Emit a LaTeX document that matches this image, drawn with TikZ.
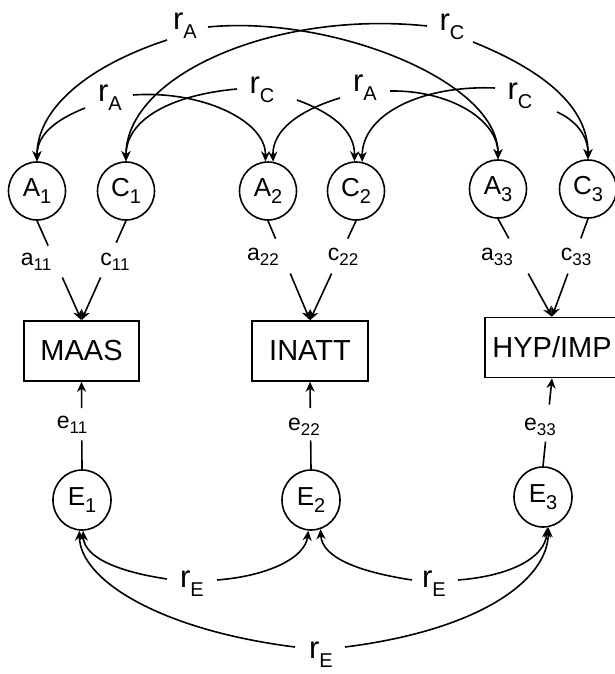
\documentclass[tikz,border=0pt]{standalone}
\usepackage{fontspec}
\setmainfont{Liberation Sans}
\usetikzlibrary{arrows.meta,shapes.geometric,calc}
\newcommand{\myL}[2]{{\fontsize{26}{26}\selectfont #1}\raisebox{-7pt}{\fontsize{20}{20}\selectfont #2}}
\newcommand{\myR}[1]{{\fontsize{31}{31}\selectfont r}\raisebox{-9pt}{\fontsize{20}{20}\selectfont #1}}
\newcommand{\myP}[2]{{\fontsize{23}{23}\selectfont #1}\raisebox{-5pt}{\fontsize{17}{17}\selectfont #2}}
\begin{document}
\begin{tikzpicture}[x=1pt,y=-1pt,
  every node/.style={inner sep=0pt},
  lat/.style={draw, ellipse, line width=1.6pt, minimum width=57pt, minimum height=58pt},
  elat/.style={draw, ellipse, line width=1.6pt, minimum width=58pt, minimum height=60pt},
  obs/.style={draw, rectangle, line width=1.6pt, minimum height=60pt, font=\fontsize{29}{29}\selectfont},
  conn/.style={line width=1.6pt},
  arr/.style={conn, -{Stealth[length=10pt,width=9pt]}}
]
\useasboundingbox (0,0) rectangle (614,674);

% latent A and C
\node[lat] (A1) at (37,191) {\myL{A}{1}};
\node[lat] (C1) at (126,191) {\myL{C}{1}};
\node[lat] (A2) at (268,191) {\myL{A}{2}};
\node[lat] (C2) at (356,191) {\myL{C}{2}};
\node[lat] (A3) at (498,189) {\myL{A}{3}};
\node[lat] (C3) at (588,189) {\myL{C}{3}};

% observed
\node[obs, minimum width=115pt] (MAAS) at (81.5,351) {MAAS};
\node[obs, minimum width=116pt] (INATT) at (310,351) {INATT};
\node[obs, minimum width=134pt] (HYP) at (552,347.5) {HYP/IMP};

% E latent
\node[elat] (E1) at (82,500) {\myL{E}{1}};
\node[elat] (E2) at (311,500) {\myL{E}{2}};
\node[elat] (E3) at (543,497) {\myL{E}{3}};

% path labels
\node (a11) at (36,262) {\myP{a}{11}};
\node (c11) at (115,262) {\myP{c}{11}};
\node (a22) at (263,257) {\myP{a}{22}};
\node (c22) at (343,257) {\myP{c}{22}};
\node (a33) at (497,257) {\myP{a}{33}};
\node (c33) at (576,257) {\myP{c}{33}};
\node (e11) at (72,425) {\myP{e}{11}};
\node (e22) at (304,427) {\myP{e}{22}};
\node (e33) at (540,427) {\myP{e}{33}};

% paths A/C -> observed
\draw[conn] (A1.south) -- ($(A1.south)!0.25!(MAAS.north)$);
\draw[arr] ($(A1.south)!0.57!(MAAS.north)$) -- (MAAS.north);
\draw[conn] (C1.south) -- ($(C1.south)!0.22!(MAAS.north)$);
\draw[arr] ($(C1.south)!0.57!(MAAS.north)$) -- (MAAS.north);
\draw[conn] (A2.south) -- ($(A2.south)!0.18!(INATT.north)$);
\draw[arr] ($(A2.south)!0.53!(INATT.north)$) -- (INATT.north);
\draw[conn] (C2.south) -- ($(C2.south)!0.18!(INATT.north)$);
\draw[arr] ($(C2.south)!0.53!(INATT.north)$) -- (INATT.north);
\draw[conn] (A3.south) -- ($(A3.south)!0.2!(HYP.north)$);
\draw[arr] ($(A3.south)!0.56!(HYP.north)$) -- (HYP.north);
\draw[conn] (C3.south) -- ($(C3.south)!0.2!(HYP.north)$);
\draw[arr] ($(C3.south)!0.56!(HYP.north)$) -- (HYP.north);

% paths E -> observed
\draw[conn] (E1.north) -- ($(E1.north)!0.33!(MAAS.south)$);
\draw[arr] ($(E1.north)!0.7!(MAAS.south)$) -- (MAAS.south);
\draw[conn] (E2.north) -- ($(E2.north)!0.33!(INATT.south)$);
\draw[arr] ($(E2.north)!0.7!(INATT.south)$) -- (INATT.south);
\draw[conn] (E3.north) -- ($(E3.north)!0.28!(HYP.south)$);
\draw[arr] ($(E3.north)!0.7!(HYP.south)$) -- (HYP.south);

% correlation labels
\node (rAt) at (185,26) {\myR{A}};
\node (rCt) at (452,27) {\myR{C}};
\node (rA1) at (110,98) {\myR{A}};
\node (rC1) at (262,90) {\myR{C}};
\node (rA2) at (365,88) {\myR{A}};
\node (rC2) at (520,96) {\myR{C}};
\node (rE1) at (192,584) {\myR{E}};
\node (rE2) at (434,584) {\myR{E}};
\node (rE3) at (321,655) {\myR{E}};

% curve ends at the labels
\coordinate (rAt-l) at (167,40);  \coordinate (rAt-r) at (208,27);
\coordinate (rCt-l) at (427,26);  \coordinate (rCt-r) at (473,42);
\coordinate (rA1-l) at (85,108);  \coordinate (rA1-r) at (133,95);
\coordinate (rC1-l) at (237,89);  \coordinate (rC1-r) at (297,100);
\coordinate (rA2-l) at (340,98);  \coordinate (rA2-r) at (390,91);
\coordinate (rC2-l) at (495,88);  \coordinate (rC2-r) at (557,112);
\coordinate (rE1-l) at (167,579); \coordinate (rE1-r) at (217,580);
\coordinate (rE2-l) at (412,580); \coordinate (rE2-r) at (458,580);
\coordinate (rE3-l) at (295,647); \coordinate (rE3-r) at (345,647);

% top correlations
\draw[arr] (rAt-l) .. controls (85,67) and (37,110) .. (A1.north);
\draw[arr] (rAt-r) .. controls (330,15) and (498,80) .. (A3.north);
\draw[arr] (rCt-l) .. controls (275,10) and (126,75) .. (C1.north);
\draw[arr] (rCt-r) .. controls (530,65) and (588,100) .. (C3.north);
\draw[arr] (rA1-l) .. controls (55,120) and (37,135) .. (A1.north);
\draw[arr] (rA1-r) .. controls (200,90) and (266,120) .. (A2.95);
\draw[arr] (rC1-l) .. controls (170,95) and (126,120) .. (C1.north);
\draw[arr] (rC1-r) .. controls (330,112) and (355,130) .. (C2.93);
\draw[arr] (rA2-l) .. controls (300,110) and (272,130) .. (A2.80);
\draw[arr] (rA2-r) .. controls (450,90) and (498,120) .. (A3.north);
\draw[arr] (rC2-l) .. controls (420,85) and (362,115) .. (C2.78);
\draw[arr] (rC2-r) .. controls (575,120) and (588,135) .. (C3.north);

% bottom correlations
\draw[arr] (rE1-l) .. controls (120,572) and (84,558) .. (E1.-88);
\draw[arr] (rE1-r) .. controls (268,576) and (305,558) .. (E2.-95);
\draw[arr] (rE2-l) .. controls (360,572) and (322,558) .. (E2.-72);
\draw[arr] (rE2-r) .. controls (510,576) and (545,558) .. (E3.-82);
\draw[arr] (rE3-l) .. controls (160,630) and (80,580) .. (E1.-95);
\draw[arr] (rE3-r) .. controls (480,630) and (548,580) .. (E3.-80);
\end{tikzpicture}
\end{document}
